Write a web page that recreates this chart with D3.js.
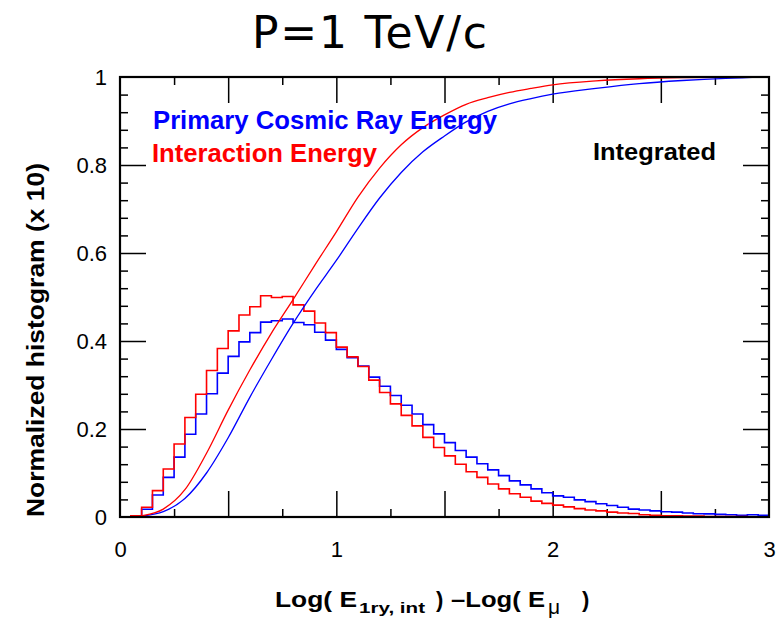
<!DOCTYPE html>
<html>
<head>
<meta charset="utf-8">
<script src="https://cdn.jsdelivr.net/npm/d3@7"></script>
<style>
  body { margin: 0; background: #fff; }
  svg { display: block; }
</style>
</head>
<body>
<svg id="chart" width="783" height="620"></svg>
<script>
// histogram bins: 60 bins of 0.05 from 0 to 3
const binWidth = 0.05;
const histRed = [0, 0.003, 0.022, 0.060, 0.109, 0.166, 0.226, 0.279, 0.333, 0.383,
  0.423, 0.459, 0.478, 0.503, 0.499, 0.501, 0.482, 0.468, 0.441, 0.419,
  0.386, 0.364, 0.342, 0.311, 0.283, 0.257, 0.231, 0.207, 0.181, 0.158,
  0.139, 0.120, 0.103, 0.090, 0.075, 0.064, 0.053, 0.045, 0.036, 0.031,
  0.027, 0.023, 0.019, 0.016, 0.014, 0.011, 0.009, 0.008, 0.005, 0.004,
  0.003, 0.003, 0.002, 0.002, 0.001, 0.001, 0.001, 0.001, 0.0005, 0.0005];
const histBlue = [0, 0.003, 0.0175, 0.050, 0.090, 0.136, 0.188, 0.234, 0.280, 0.327,
  0.365, 0.398, 0.419, 0.443, 0.446, 0.450, 0.442, 0.437, 0.420, 0.402,
  0.381, 0.362, 0.343, 0.318, 0.297, 0.276, 0.254, 0.234, 0.210, 0.189,
  0.169, 0.151, 0.136, 0.121, 0.107, 0.094, 0.082, 0.073, 0.064, 0.055,
  0.048, 0.045, 0.039, 0.035, 0.030, 0.026, 0.022, 0.018, 0.016, 0.014,
  0.012, 0.011, 0.009, 0.0075, 0.007, 0.006, 0.005, 0.004, 0.005, 0.004];

// integrated curves
const cumX     = [0, 0.05, 0.1, 0.2, 0.3, 0.4, 0.5, 0.6, 0.7, 0.8, 0.9, 1.0, 1.1, 1.2, 1.3, 1.4, 1.5, 1.6, 1.7, 1.8, 1.9, 2.0, 2.2, 2.4, 2.6, 2.8, 3.0];
const cumRed   = [0, 0, 0.003, 0.018, 0.062, 0.145, 0.243, 0.334, 0.418, 0.494, 0.572, 0.648, 0.727, 0.793, 0.846, 0.885, 0.914, 0.938, 0.953, 0.965, 0.974, 0.982, 0.991, 0.996, 0.9985, 0.9995, 1];
const cumBlue  = [0, 0, 0.002, 0.012, 0.042, 0.100, 0.180, 0.272, 0.358, 0.440, 0.514, 0.583, 0.656, 0.725, 0.783, 0.830, 0.866, 0.898, 0.922, 0.939, 0.951, 0.961, 0.974, 0.985, 0.992, 0.997, 1];

const xTickLabels = [0, 1, 2, 3];
const yTickLabels = [0, 0.2, 0.4, 0.6, 0.8, 1];

const svg = d3.select('#chart');
const plotL = 120, plotR = 769, plotT = 77, plotB = 517;

const x = d3.scaleLinear().domain([0, 3]).range([plotL, plotR]);
const y = d3.scaleLinear().domain([0, 1]).range([plotB, plotT]);

const font = '"Liberation Sans", Arial, Helvetica, sans-serif';

// ticks, inward on all four sides
const xMajor = d3.range(0.5, 3, 0.5);
const xMinor = d3.range(0.25, 3, 0.5);
const yMajor = [0.2, 0.4, 0.6, 0.8];
const yMinor = d3.range(1, 25).map(i => i * 0.04).filter(v => Math.abs(v / 0.2 - Math.round(v / 0.2)) > 1e-6);

function tickAxis(axisFn, pos, vals, len, transform) {
  const g = svg.append('g')
      .attr('transform', transform)
      .call(axisFn(pos).tickValues(vals).tickSize(-len).tickFormat(''));
  g.select('.domain').remove();
  g.selectAll('line').attr('stroke', '#000').attr('stroke-width', 1.5);
}
tickAxis(d3.axisBottom, x, xMajor, 26, `translate(0,${plotB})`);
tickAxis(d3.axisBottom, x, xMinor, 8, `translate(0,${plotB})`);
tickAxis(d3.axisTop, x, xMajor, 26, `translate(0,${plotT})`);
tickAxis(d3.axisTop, x, xMinor, 8, `translate(0,${plotT})`);
tickAxis(d3.axisLeft, y, yMajor, 26, `translate(${plotL},0)`);
tickAxis(d3.axisLeft, y, yMinor, 8, `translate(${plotL},0)`);
tickAxis(d3.axisRight, y, yMajor, 26, `translate(${plotR},0)`);
tickAxis(d3.axisRight, y, yMinor, 8, `translate(${plotR},0)`);

// tick labels
const xLab = svg.append('g')
    .attr('transform', `translate(0,${plotB})`)
    .call(d3.axisBottom(x).tickValues(xTickLabels).tickSize(0).tickPadding(24).tickFormat(d3.format('d')));
xLab.select('.domain').remove();
xLab.selectAll('text').attr('font-family', font).attr('font-size', 22).attr('fill', '#000');

const yLab = svg.append('g')
    .attr('transform', `translate(${plotL},0)`)
    .call(d3.axisLeft(y).tickValues(yTickLabels).tickSize(0).tickPadding(13).tickFormat(d => d === 0 || d === 1 ? d3.format('d')(d) : d3.format('.1f')(d)));
yLab.select('.domain').remove();
yLab.selectAll('text').attr('font-family', font).attr('font-size', 22).attr('fill', '#000');

// histograms as steps
function stepPoints(vals) {
  const pts = vals.map((v, i) => [i * binWidth, v]);
  pts.push([vals.length * binWidth, vals[vals.length - 1]]);
  return pts;
}
const stepLine = d3.line()
    .x(d => x(d[0]))
    .y(d => y(d[1]))
    .curve(d3.curveStepAfter);

svg.append('path')
    .attr('d', stepLine(stepPoints(histBlue)))
    .attr('fill', 'none').attr('stroke', '#0000ff').attr('stroke-width', 1.6);
svg.append('path')
    .attr('d', stepLine(stepPoints(histRed)))
    .attr('fill', 'none').attr('stroke', '#ff0000').attr('stroke-width', 1.6);

// integrated curves
const smooth = d3.line()
    .x(d => x(d[0]))
    .y(d => y(d[1]))
    .curve(d3.curveMonotoneX);
svg.append('path')
    .attr('d', smooth(d3.zip(cumX, cumBlue)))
    .attr('fill', 'none').attr('stroke', '#0000ff').attr('stroke-width', 1.3);
svg.append('path')
    .attr('d', smooth(d3.zip(cumX, cumRed)))
    .attr('fill', 'none').attr('stroke', '#ff0000').attr('stroke-width', 1.3);

// frame
svg.append('rect')
    .attr('x', plotL).attr('y', plotT)
    .attr('width', plotR - plotL).attr('height', plotB - plotT)
    .attr('fill', 'none').attr('stroke', '#000').attr('stroke-width', 2.2);

// title
svg.append('text')
    .attr('x', 252).attr('y', 48)
    .attr('font-family', '"DejaVu Sans", sans-serif')
    .attr('font-size', 44)
    .attr('textLength', 235)
    .attr('lengthAdjust', 'spacing')
    .text('P=1 TeV/c');

// legend
svg.append('text')
    .attr('x', 153).attr('y', 129)
    .attr('font-family', font).attr('font-weight', 'bold').attr('font-size', 25)
    .attr('fill', '#0000ff')
    .attr('textLength', 344).attr('lengthAdjust', 'spacingAndGlyphs')
    .text('Primary Cosmic Ray Energy');
svg.append('text')
    .attr('x', 152).attr('y', 162)
    .attr('font-family', font).attr('font-weight', 'bold').attr('font-size', 25)
    .attr('fill', '#ff0000')
    .attr('textLength', 225).attr('lengthAdjust', 'spacingAndGlyphs')
    .text('Interaction Energy');
svg.append('text')
    .attr('x', 593).attr('y', 160)
    .attr('font-family', font).attr('font-weight', 'bold').attr('font-size', 23)
    .attr('fill', '#000')
    .attr('textLength', 123).attr('lengthAdjust', 'spacingAndGlyphs')
    .text('Integrated');

// y axis title
svg.append('text')
    .attr('transform', 'translate(44,340) rotate(-90)')
    .attr('text-anchor', 'middle')
    .attr('font-family', font).attr('font-weight', 'bold').attr('font-size', 24)
    .attr('textLength', 354).attr('lengthAdjust', 'spacingAndGlyphs')
    .text('Normalized histogram (x 10)');

// x axis title
const xt = svg.append('g')
    .attr('font-family', font).attr('font-weight', 'bold').attr('fill', '#000');
xt.append('text').attr('x', 275).attr('y', 607).attr('font-size', 22)
    .attr('textLength', 82).attr('lengthAdjust', 'spacingAndGlyphs').text('Log( E');
xt.append('text').attr('x', 359).attr('y', 613).attr('font-size', 15)
    .attr('textLength', 66).attr('lengthAdjust', 'spacingAndGlyphs').text('1ry, int');
xt.append('text').attr('x', 436).attr('y', 607).attr('font-size', 22).text(')');
xt.append('text').attr('x', 451).attr('y', 607).attr('font-size', 22)
    .attr('textLength', 94).attr('lengthAdjust', 'spacingAndGlyphs').text('\u2013Log( E');
xt.append('text').attr('x', 548).attr('y', 614).attr('font-size', 21)
    .attr('font-weight', 'normal').text('\u03bc');
xt.append('text').attr('x', 582).attr('y', 607).attr('font-size', 22).text(')');
</script>
</body>
</html>
